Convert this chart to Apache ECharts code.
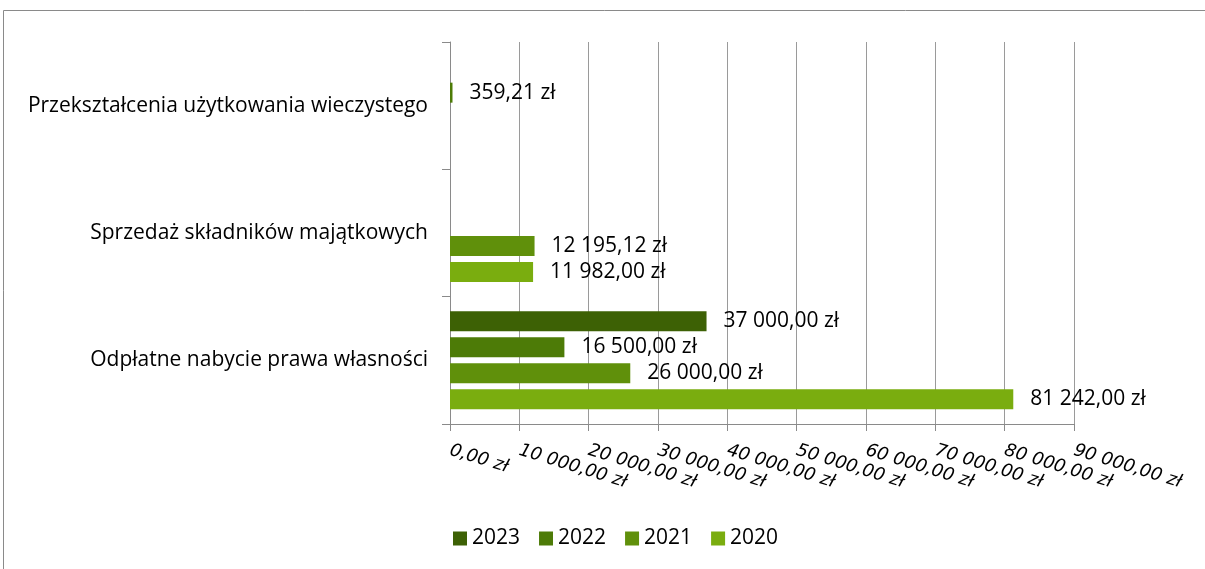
<!DOCTYPE html>
<html><head><meta charset="utf-8">
<script src="https://cdn.jsdelivr.net/npm/echarts@6/dist/echarts.min.js"></script>
<style>html,body{margin:0;padding:0;background:#fff}#c{width:1205px;height:569px}</style>
</head><body><div id="c"></div>
<script>
const categories = ['Odpłatne nabycie prawa własności', 'Sprzedaż składników majątkowych', 'Przekształcenia użytkowania wieczystego'];
const years = ['2023', '2022', '2021', '2020'];
const v2023 = [37000, null, null];
const v2022 = [16500, null, 359.21];
const v2021 = [26000, 12195.12, null];
const v2020 = [81242, 11982, null];
const xTicks = [0, 10000, 20000, 30000, 40000, 50000, 60000, 70000, 80000, 90000];
const colors = {'2023': '#3d6105', '2022': '#4d7b07', '2021': '#60900b', '2020': '#7aad0f'};

function fmt(v) {
  const parts = Number(v).toFixed(2).split('.');
  const int = parts[0].replace(/\B(?=(\d{3})+(?!\d))/g, ' ');
  return int + ',' + parts[1] + ' zł';
}
const FONT = 'Open Sans';
const seriesData = {'2023': v2023, '2022': v2022, '2021': v2021, '2020': v2020};
const series = years.map(y => ({
  name: y, type: 'bar', data: seriesData[y], barWidth: 20, barGap: '30%',
  itemStyle: {color: colors[y]},
  label: {show: true, position: 'right', distance: 17, color: '#000', fontFamily: FONT, fontSize: 21,
    formatter: p => p.value == null ? '' : fmt(p.value)}
}));
const chart = echarts.init(document.getElementById('c'));
chart.setOption({
  animation: false,
  graphic: [{type: 'rect', shape: {x: 3.5, y: 10.5, width: 1220, height: 600}, style: {fill: 'none', stroke: '#8a8a8a', lineWidth: 1}}],
  grid: {left: 450, right: 131, top: 42, bottom: 145, containLabel: false},
  legend: {data: years, top: 523, left: 448, itemWidth: 14, itemHeight: 14, itemGap: 19, icon: 'rect',
    textStyle: {fontFamily: FONT, fontSize: 21, color: '#000'}},
  xAxis: {type: 'value', min: xTicks[0], max: xTicks[xTicks.length - 1], interval: 10000,
    axisLine: {show: true, lineStyle: {color: '#8a8a8a'}},
    axisTick: {show: true, length: 7, lineStyle: {color: '#8a8a8a'}},
    splitLine: {show: true, lineStyle: {color: '#9a9a9a'}},
    axisLabel: {rotate: -17, margin: 26, fontFamily: 'DejaVu Sans', fontSize: 18, fontStyle: 'italic', color: '#000', formatter: v => fmt(v)}},
  yAxis: {type: 'category', data: categories,
    axisLine: {show: true, lineStyle: {color: '#8a8a8a'}},
    axisTick: {show: true, length: 8, lineStyle: {color: '#8a8a8a'}},
    axisLabel: {margin: 22, fontFamily: FONT, fontSize: 21, color: '#000'}},
  series: series
});
</script></body></html>
